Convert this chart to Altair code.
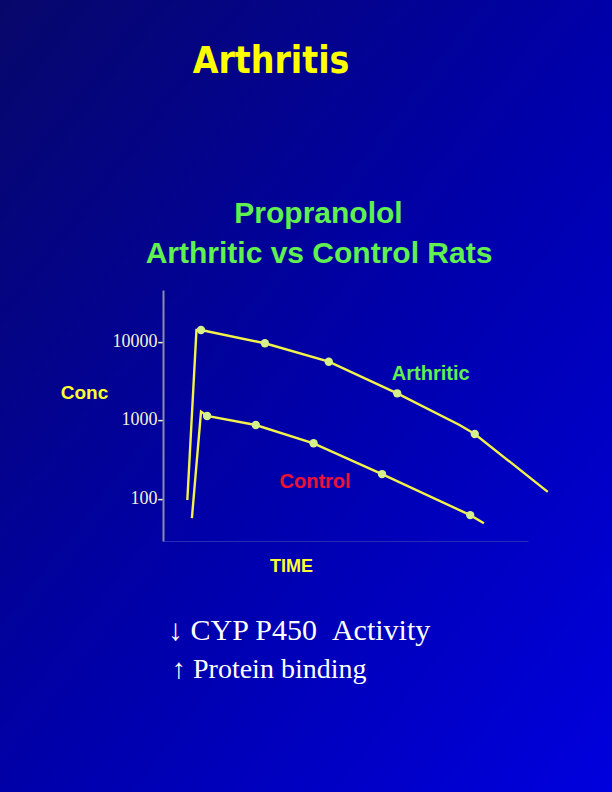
import altair as alt
import pandas as pd

# ---- data ----
arth_time = [1.6, 2.2, 2.5, 6.7, 10.9, 15.4, 19.5, 20.5, 25.3]
arth_conc = [95, 14100, 14100, 9540, 5550, 2190, 863, 662, 121]
arth_marker = [0, 0, 1, 1, 1, 1, 0, 1, 0]

ctrl_time = [1.9, 2.5, 2.9, 6.1, 9.9, 14.4, 20.2, 21.1]
ctrl_conc = [56, 1280, 1125, 863, 504, 204, 61, 48]
ctrl_marker = [0, 0, 1, 1, 1, 1, 1, 0]

y_ticks = [100, 1000, 10000]

label_names = ["Arthritic", "Control"]
label_time = [17.6, 10.0]
label_conc = [3240, 134]
label_colors = ["#60f050", "#ee1133"]

rows = []
for i, (t, c, m) in enumerate(zip(arth_time, arth_conc, arth_marker)):
    rows.append({"series": "Arthritic", "idx": i, "time": t, "conc": c, "marker": m})
for i, (t, c, m) in enumerate(zip(ctrl_time, ctrl_conc, ctrl_marker)):
    rows.append({"series": "Control", "idx": i, "time": t, "conc": c, "marker": m})
df = pd.DataFrame(rows)

labels_df = pd.DataFrame({"name": label_names, "time": label_time,
                          "conc": label_conc, "color": label_colors})

W, H = 365, 251
PL, PT, PR, PB = 163, 290, 84, 251

x_scale = alt.Scale(domain=[0, 24], nice=False, zero=False)
y_scale = alt.Scale(type="log", domain=[28.5, 45700], nice=False)

x_enc = alt.X("time:Q", scale=x_scale,
              axis=alt.Axis(labels=False, ticks=False, grid=False, zindex=1,
                            domainColor="#2a2ab8", domainWidth=1,
                            title="TIME", titleX=128, titleY=30,
                            titleAlign="center", titleBaseline="alphabetic",
                            titleFont="Liberation Sans", titleFontWeight="bold",
                            titleFontSize=18, titleColor="#ffff33"))
y_enc = alt.Y("conc:Q", scale=y_scale,
              axis=alt.Axis(values=y_ticks, ticks=False, grid=False, zindex=1,
                            domainColor="#8a8aaa", domainWidth=2,
                            labelExpr="format(datum.value, 'd') + '-'",
                            labelFont="Liberation Serif", labelFontSize=18,
                            labelColor="#f2f2d4", labelPadding=0,
                            labelBaseline="middle",
                            title="Conc", titleAngle=0, titleX=-79, titleY=108,
                            titleAlign="center", titleBaseline="alphabetic",
                            titleFont="Liberation Sans", titleFontWeight="bold",
                            titleFontSize=19, titleColor="#ffff33"))

dummy = alt.Data(values=[{}])

bg = alt.Chart(dummy).mark_rect(
    color=alt.Gradient(
        gradient="linear",
        stops=[alt.GradientStop(color="#07076a", offset=0),
               alt.GradientStop(color="#0000a8", offset=0.5),
               alt.GradientStop(color="#0000de", offset=1)],
        x1=0, y1=0, x2=1, y2=1)
).encode(x=alt.value(-PL), x2=alt.value(W + PR),
         y=alt.value(-PT), y2=alt.value(H + PB))

lines = alt.Chart(df).mark_line(color="#f2f24a", strokeWidth=2.4).encode(
    x=x_enc, y=y_enc, detail="series:N", order="idx:Q")

points = alt.Chart(df).transform_filter("datum.marker == 1").mark_point(
    filled=True, shape="circle", size=70, color="#d6f08c", opacity=1
).encode(x="time:Q", y="conc:Q")

series_labels = alt.Chart(labels_df).mark_text(
    font="Liberation Sans", fontWeight="bold", fontSize=20,
    align="center", baseline="alphabetic"
).encode(x="time:Q", y="conc:Q", text="name:N",
         color=alt.Color("color:N", scale=None))


def txt(s, x, y, size, color, font="Liberation Sans", weight="bold", align="center"):
    return alt.Chart(dummy).mark_text(
        text=s, font=font, fontWeight=weight, fontSize=size, color=color,
        align=align, baseline="alphabetic"
    ).encode(x=alt.value(x), y=alt.value(y))


title = txt("Arthritis", 108, -217, 37, "#ffff00",
            font="'DejaVu Sans Condensed', 'Liberation Sans', sans-serif")
sub1 = txt("Propranolol", 155.5, -66.7, 30, "#60f050")
sub2 = txt("Arthritic vs Control Rats", 156, -27.3, 30, "#60f050")
note1 = txt("\u2193 CYP P450\u00a0\u00a0Activity", 5, 350, 30, "#ffffff",
            font="Liberation Serif", weight="normal", align="left")
note2 = txt("\u2191 Protein binding", 9, 388, 28, "#ffffff",
            font="Liberation Serif", weight="normal", align="left")

chart = alt.layer(bg, lines, points, series_labels, title, sub1, sub2, note1, note2).properties(
    width=W, height=H,
    autosize=alt.AutoSizeParams(type="none"),
    padding={"left": PL, "top": PT, "right": PR, "bottom": PB},
    background="#0000a8",
).configure_view(stroke=None)

chart.save("out.html", embed_options={"renderer": "svg", "actions": False})
